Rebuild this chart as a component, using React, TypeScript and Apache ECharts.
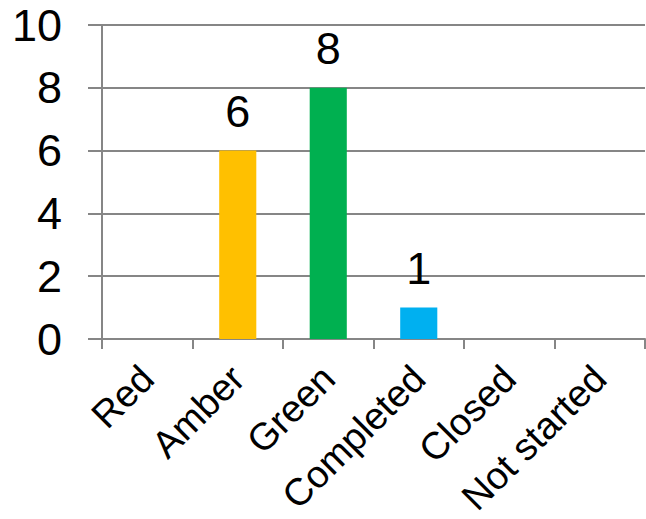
import React, { useEffect, useRef } from "react";
import * as echarts from "echarts";

const categories = ["Red", "Amber", "Green", "Completed", "Closed", "Not started"];
const values = [0, 6, 8, 1, 0, 0];
const barColors = ["#FF0000", "#FFC000", "#00B050", "#00B0F0", "#7F7F7F", "#A5A5A5"];

export default function App() {
  const ref = useRef<HTMLDivElement>(null);
  useEffect(() => {
    const chart = echarts.init(ref.current!, null, { renderer: "svg" });
    const font = "Liberation Sans, Arial, sans-serif";
    chart.setOption({
      animation: false,
      grid: { left: 102, right: 1, top: 25, bottom: 176, containLabel: false },
      xAxis: {
        type: "category",
        data: categories,
        axisLine: { show: true, lineStyle: { color: "#868686", width: 2 } },
        axisTick: { show: true, length: 10, alignWithLabel: false, lineStyle: { color: "#868686", width: 2 } },
        axisLabel: { rotate: 45, fontSize: 38, color: "#000", fontFamily: font, margin: 33, interval: 0 },
      },
      yAxis: {
        type: "value",
        min: 0,
        max: 10,
        interval: 2,
        axisLine: { show: true, lineStyle: { color: "#868686", width: 2 } },
        axisTick: { show: true, length: 14, lineStyle: { color: "#868686", width: 2 } },
        splitLine: { show: true, lineStyle: { color: "#868686", width: 2 } },
        axisLabel: { fontSize: 45, color: "#000", fontFamily: font, margin: 40 },
      },
      series: [
        {
          type: "bar",
          barWidth: "41%",
          data: values.map((v, i) => ({ value: v, itemStyle: { color: barColors[i] } })),
          label: {
            show: true,
            position: "top",
            distance: 17,
            fontSize: 45,
            color: "#000",
            fontFamily: font,
            formatter: (p: any) => (p.value === 0 ? "" : String(p.value)),
          },
        },
      ],
    });
    return () => chart.dispose();
  }, []);
  return <div ref={ref} style={{ position: "absolute", left: 0, top: 0, width: 646, height: 519 }} />;
}
